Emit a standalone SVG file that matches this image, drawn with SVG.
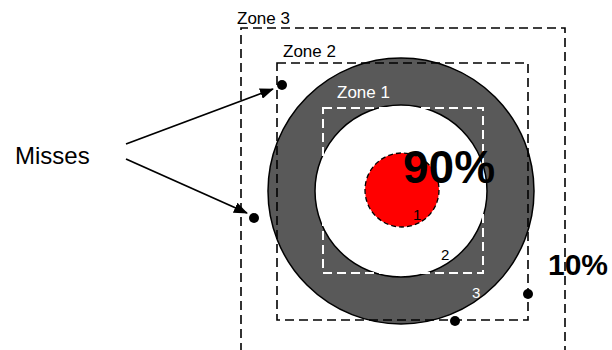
<svg xmlns="http://www.w3.org/2000/svg" width="612" height="350" viewBox="0 0 612 350">
<style>
text{font-family:"Liberation Sans",Arial,sans-serif}
.lbl{font-size:17px;fill:#000}
.wlbl{font-size:17px;fill:#fff}
.dash{fill:none;stroke:#000;stroke-width:1.6;stroke-dasharray:9 5}
.dot{fill:#000}
.big{font-weight:bold;fill:#000}
.arr{stroke:#000;stroke-width:1.8;fill:none}
</style>
<defs>
<marker id="ah" markerWidth="14" markerHeight="11" refX="13" refY="5.5" orient="auto" markerUnits="userSpaceOnUse" viewBox="0 0 14 11">
<path d="M0,0 L14,5.5 L0,11 Z" fill="#000"/>
</marker>
</defs>
<rect width="612" height="350" fill="#fff"/>
<g id="target">
<circle cx="401" cy="191" r="133" fill="#595959" stroke="#000" stroke-width="1.5"/>
<circle cx="401" cy="191" r="86" fill="#fff" stroke="#000" stroke-width="1.5"/>
<circle cx="402" cy="190" r="37" fill="#ff0000" stroke="#000" stroke-width="1.3" stroke-dasharray="5 3"/>
</g>
<g id="zone3">
<path class="dash" d="M241,352 V28 H565 V352"/>
<text class="lbl" x="237" y="24">Zone 3</text>
</g>
<g id="zone2">
<rect class="dash" x="277" y="63" width="251" height="257"/>
<text class="lbl" x="283" y="57">Zone 2</text>
</g>
<g id="zone1">
<rect x="323" y="108" width="160" height="165" fill="none" stroke="#fff" stroke-width="2" stroke-dasharray="9 5"/>
<text class="wlbl" x="337" y="98">Zone 1</text>
</g>
<g id="labels">
<text class="big" x="403" y="183" font-size="46">90%</text>
<text class="big" x="548" y="275" font-size="30">10%</text>
<text class="lbl" x="413" y="220" style="font-size:15px">1</text>
<text class="lbl" x="441" y="260" style="font-size:15px">2</text>
<text class="wlbl" x="472" y="298" style="font-size:15px">3</text>
</g>
<g id="misses">
<text class="lbl" x="15" y="164" style="font-size:24px">Misses</text>
<circle class="dot" cx="282" cy="85" r="5"/>
<circle class="dot" cx="254" cy="218" r="5"/>
<circle class="dot" cx="528" cy="294" r="5"/>
<circle class="dot" cx="455" cy="321" r="5"/>
</g>
<g id="connectors">
<line class="arr" x1="126" y1="144" x2="273" y2="89" marker-end="url(#ah)"/>
<line class="arr" x1="126" y1="159" x2="247" y2="213" marker-end="url(#ah)"/>
</g>
</svg>
